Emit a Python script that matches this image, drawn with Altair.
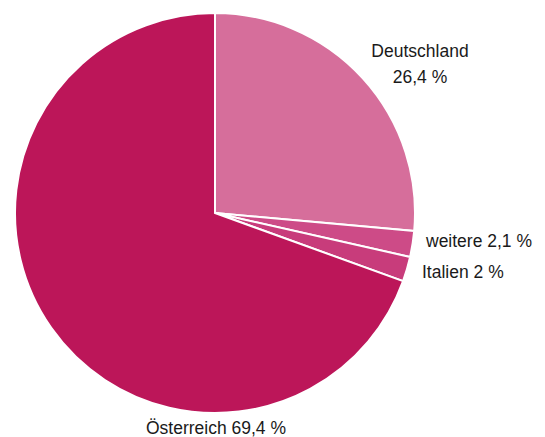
import altair as alt
import pandas as pd

countries = ["Deutschland", "weitere", "Italien", "Österreich"]
shares = [26.4, 2.1, 2.0, 69.4]
label_texts = [["Deutschland", "26,4 %"], ["weitere 2,1 %"], ["Italien 2 %"], ["Österreich 69,4 %"]]
colors = ["#d66e9b", "#cd4b87", "#c83c7b", "#bc1659"]

df = pd.DataFrame({"country": countries, "share": shares, "order": list(range(len(countries)))})

FONT = "Liberation Sans Narrow, Arial Narrow, Liberation Sans"
CX, CY, R = 207, 205, 200

pie = alt.Chart(df).mark_arc(radius=R, stroke="white", strokeWidth=2).encode(
    theta=alt.Theta("share:Q", stack=True),
    order=alt.Order("order:Q"),
    color=alt.Color("country:N", scale=alt.Scale(domain=countries, range=colors), legend=None),
    x=alt.value(CX),
    y=alt.value(CY),
)

label_layout = [
    dict(x=412, y=49, align="center"),
    dict(x=418, y=239, align="left"),
    dict(x=414, y=270, align="left"),
    dict(x=208, y=426, align="center"),
]

layers = [pie]
for txt, lay in zip(label_texts, label_layout):
    layers.append(
        alt.Chart(pd.DataFrame({"t": [0]})).mark_text(
            text=txt if len(txt) > 1 else txt[0],
            align=lay["align"], baseline="alphabetic", font=FONT, fontSize=17.5,
            lineHeight=26, color="#1a1a1a",
        ).encode(x=alt.value(lay["x"]), y=alt.value(lay["y"]))
    )

chart = alt.layer(*layers).properties(
    width=529, height=429, padding=0, autosize="none"
).configure_view(stroke=None)

chart.save("out.html", embed_options={"renderer": "svg", "actions": False})
